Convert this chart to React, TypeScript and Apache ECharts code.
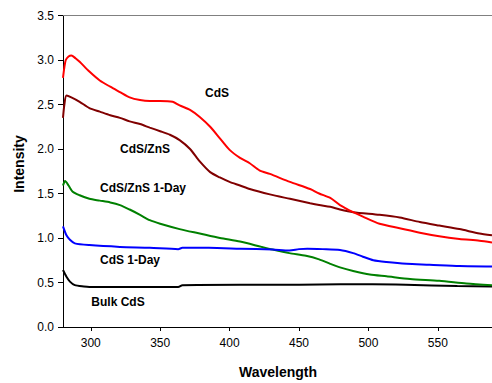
import React, { useEffect, useRef } from "react";
import * as echarts from "echarts";

const xTicks = [300, 350, 400, 450, 500, 550];

const cdsWl = [280, 281, 282, 284, 286, 289, 292, 299, 306.5, 314, 321, 328, 335.5, 342.5, 350, 359, 364, 371.5, 378.5, 386, 393, 400, 407.5, 414.5, 421.5, 429, 443.5, 458, 464.5, 472.5, 479.5, 489, 496, 508, 522.5, 537, 551, 565.5, 580, 589];
const cdsVal = [2.8, 2.92, 3.0, 3.04, 3.05, 3.02, 2.98, 2.87, 2.77, 2.7, 2.64, 2.58, 2.55, 2.54, 2.54, 2.53, 2.49, 2.44, 2.36, 2.25, 2.12, 1.99, 1.9, 1.84, 1.76, 1.72, 1.63, 1.55, 1.5, 1.45, 1.37, 1.29, 1.24, 1.16, 1.11, 1.06, 1.02, 0.99, 0.97, 0.95];

const znsWl = [280, 281, 282.5, 286, 292, 299, 306.5, 314, 321, 328, 335.5, 342.5, 350, 357, 364, 371.5, 378.5, 386, 393, 400, 407.5, 414.5, 429, 443.5, 458, 464.5, 472.5, 479.5, 489, 508, 522.5, 537, 551, 565.5, 580, 589];
const znsVal = [2.35, 2.5, 2.6, 2.58, 2.53, 2.46, 2.42, 2.38, 2.35, 2.31, 2.28, 2.24, 2.2, 2.16, 2.1, 2.0, 1.86, 1.74, 1.68, 1.63, 1.59, 1.55, 1.49, 1.44, 1.39, 1.37, 1.35, 1.32, 1.29, 1.26, 1.23, 1.18, 1.14, 1.1, 1.05, 1.03];

const zns1Wl = [280, 281.5, 284, 287, 292, 299, 306.5, 314, 321, 328, 335.5, 342.5, 350, 364, 378.5, 393, 407.5, 423, 431, 443, 455, 464.5, 472.5, 479.5, 489, 501, 513, 530, 551, 570.5, 589];
const zns1Val = [1.59, 1.64, 1.59, 1.52, 1.48, 1.44, 1.42, 1.4, 1.37, 1.32, 1.26, 1.2, 1.16, 1.1, 1.05, 1.0, 0.96, 0.9, 0.87, 0.83, 0.8, 0.76, 0.71, 0.67, 0.63, 0.59, 0.57, 0.54, 0.52, 0.49, 0.47];

const cds1Wl = [280, 282.5, 285, 288.5, 299, 321, 342.5, 363, 366, 385, 407.5, 431, 443, 450, 456, 467, 479.5, 489, 496, 503.5, 513, 527.5, 544, 565.5, 589];
const cds1Val = [1.13, 1.03, 0.98, 0.94, 0.92, 0.9, 0.89, 0.875, 0.89, 0.89, 0.88, 0.87, 0.86, 0.875, 0.88, 0.875, 0.865, 0.83, 0.79, 0.75, 0.73, 0.71, 0.7, 0.685, 0.68];

const bulkWl = [280, 282.5, 285, 288.5, 295, 299, 330, 363, 366, 407.5, 450, 480, 503, 527, 564, 589];
const bulkVal = [0.64, 0.565, 0.51, 0.47, 0.455, 0.45, 0.45, 0.45, 0.47, 0.475, 0.475, 0.48, 0.48, 0.475, 0.46, 0.455];

const seriesNames = ["CdS", "CdS/ZnS", "CdS/ZnS 1-Day", "CdS 1-Day", "Bulk CdS"];

const pair = (xs: number[], ys: number[]) => xs.map((x, i) => [x, ys[i]]);

export default function App() {
  const ref = useRef<HTMLDivElement>(null);
  useEffect(() => {
    if (!ref.current) return;
    const chart = echarts.init(ref.current, undefined, { renderer: "svg" });
    const font = "'Liberation Sans', Arial, sans-serif";
    const mk = (name: string, data: number[][], color: string) => ({
      name,
      type: "line",
      data,
      smooth: 0.25,
      showSymbol: false,
      symbol: "none",
      lineStyle: { color, width: 2 },
      itemStyle: { color },
    });
    const lbl = (text: string, x: number, y: number) => ({
      type: "text",
      x,
      y,
      style: {
        text,
        fill: "#000",
        font: `bold 12px ${font}`,
        textAlign: "center",
        textVerticalAlign: "middle",
      },
    });
    chart.setOption({
      animation: false,
      backgroundColor: "#fff",
      grid: { left: 63, top: 15.5, right: 0, bottom: 56, containLabel: false },
      xAxis: [
        {
          type: "value",
          min: 280,
          max: 589,
          axisLine: { show: true, lineStyle: { color: "#000", width: 1 } },
          axisTick: { show: true, customValues: xTicks, length: 4, lineStyle: { color: "#000" } },
          axisLabel: {
            customValues: xTicks,
            color: "#000",
            fontSize: 12,
            fontFamily: font,
            margin: 10,
          },
          splitLine: { show: false },
        },
        {
          type: "value",
          position: "top",
          min: 280,
          max: 589,
          axisLine: { show: true, lineStyle: { color: "#808080", width: 1 } },
          axisTick: { show: false },
          axisLabel: { show: false },
          splitLine: { show: false },
        },
      ],
      yAxis: {
        type: "value",
        min: 0,
        max: 3.5,
        interval: 0.5,
        axisLine: { show: true, lineStyle: { color: "#000", width: 1 } },
        axisTick: { show: true, length: 5, lineStyle: { color: "#000" } },
        axisLabel: {
          color: "#000",
          fontSize: 12,
          fontFamily: font,
          margin: 9,
          formatter: (v: number) => v.toFixed(1),
        },
        splitLine: { show: false },
      },
      series: [
        mk(seriesNames[4], pair(bulkWl, bulkVal), "#000000"),
        mk(seriesNames[2], pair(zns1Wl, zns1Val), "#008000"),
        mk(seriesNames[3], pair(cds1Wl, cds1Val), "#0000FF"),
        mk(seriesNames[1], pair(znsWl, znsVal), "#800000"),
        mk(seriesNames[0], pair(cdsWl, cdsVal), "#FF0000"),
      ],
      graphic: [
        lbl(seriesNames[0], 217, 93),
        lbl(seriesNames[1], 145, 149),
        lbl(seriesNames[2], 143, 188),
        lbl(seriesNames[3], 130, 260),
        lbl(seriesNames[4], 118, 302),
        {
          type: "text",
          x: 278,
          y: 372,
          style: {
            text: "Wavelength",
            fill: "#000",
            font: `bold 14px ${font}`,
            textAlign: "center",
            textVerticalAlign: "middle",
          },
        },
        {
          type: "text",
          x: 19,
          y: 164,
          rotation: Math.PI / 2,
          style: {
            text: "Intensity",
            fill: "#000",
            font: `bold 14px ${font}`,
            textAlign: "center",
            textVerticalAlign: "middle",
          },
        },
      ],
    });
    return () => chart.dispose();
  }, []);
  return (
    <div
      ref={ref}
      style={{ position: "fixed", left: 0, top: 0, width: 492, height: 383 }}
    />
  );
}
